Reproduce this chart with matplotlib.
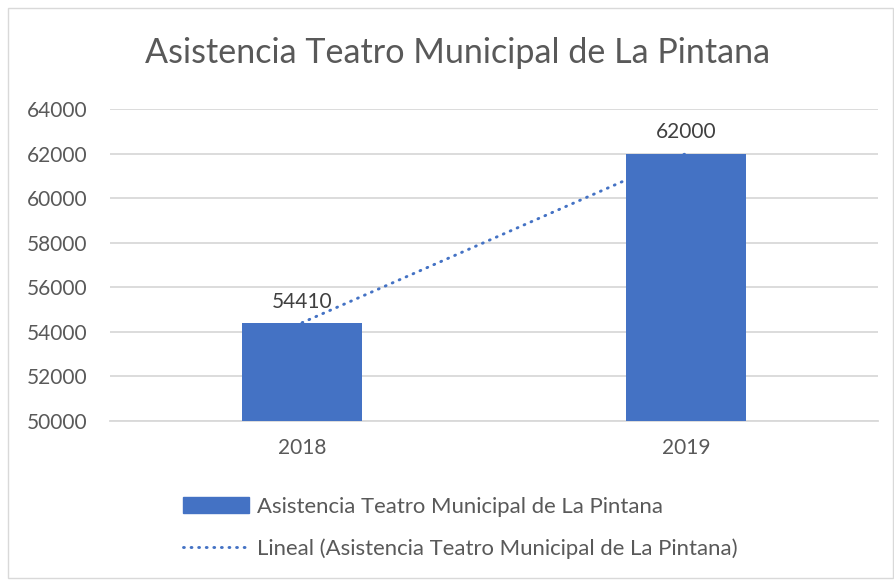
import matplotlib
matplotlib.use("Agg")
import matplotlib.pyplot as plt
import numpy as np
from matplotlib.patches import Patch, Rectangle
from matplotlib.lines import Line2D

categories = ["2018", "2019"]
values = [54410, 62000]
yticks = [50000, 52000, 54000, 56000, 58000, 60000, 62000, 64000]
title = "Asistencia Teatro Municipal de La Pintana"
series_name = "Asistencia Teatro Municipal de La Pintana"
trend_name = "Lineal (Asistencia Teatro Municipal de La Pintana)"

BLUE = "#4472C4"
TXT = "#595959"
GRID = "#D9D9D9"

plt.rcParams['font.family'] = ['Lato', 'DejaVu Sans']

W, H = 894, 581
fig = plt.figure(figsize=(W / 100, H / 100), dpi=100)
fig.patch.set_facecolor("white")
fig.patches.append(Rectangle((8 / W, 3 / H), (W - 9) / W, (H - 11) / H,
                             transform=fig.transFigure, fill=False,
                             edgecolor=GRID, linewidth=1))

ax = fig.add_axes([110 / W, 1 - 421 / H, (878 - 110) / W, (421 - 109) / H])
x = np.arange(len(categories))
bars = ax.bar(x, values, width=0.3125, color=BLUE, zorder=3)

# linear trendline
coef = np.polyfit(x, values, 1)
xt = np.array([x[0], x[-1]])
ax.plot(xt, np.polyval(coef, xt), color=BLUE, linewidth=2.1,
        linestyle=(0, (0.3, 2.3)), dash_capstyle='round', zorder=2)

for xi, v in zip(x, values):
    ax.annotate(f"{v}", (xi, v), xytext=(0, 8), textcoords="offset points",
                ha="center", va="bottom", fontsize=15, color="#404040")

ax.set_xlim(-0.5, 1.5)
ax.set_ylim(yticks[0], yticks[-1])
ax.set_yticks(yticks)
ax.set_yticklabels([str(t) for t in yticks])
ax.set_xticks(x)
ax.set_xticklabels(categories)
ax.tick_params(axis='both', length=0, labelsize=15, labelcolor=TXT)
ax.tick_params(axis='y', pad=16)
ax.tick_params(axis='x', pad=12)
ax.grid(axis='y', color=GRID, linewidth=1.3, zorder=0)
ax.set_axisbelow(True)
for s in ["top", "right", "left"]:
    ax.spines[s].set_visible(False)
ax.spines["bottom"].set_color(GRID)
ax.spines["bottom"].set_linewidth(1.3)

fig.text(458 / W, 1 - 53 / H, title, ha="center", va="center",
         fontsize=24.6, color=TXT)

handles = [Patch(facecolor=BLUE, edgecolor=BLUE),
           Line2D([0], [0], color=BLUE, linewidth=2.1,
                  linestyle=(0, (0.3, 2.3)), dash_capstyle='round')]
fig.legend(handles, [series_name, trend_name], loc="upper left",
           bbox_to_anchor=(183 / W, 1 - 497 / H), frameon=False,
           fontsize=15.9, labelcolor=TXT, handlelength=3.0, handleheight=0.72,
           handletextpad=0.35, labelspacing=0.95, borderpad=0, borderaxespad=0)

fig.savefig("out.png", dpi=100)
